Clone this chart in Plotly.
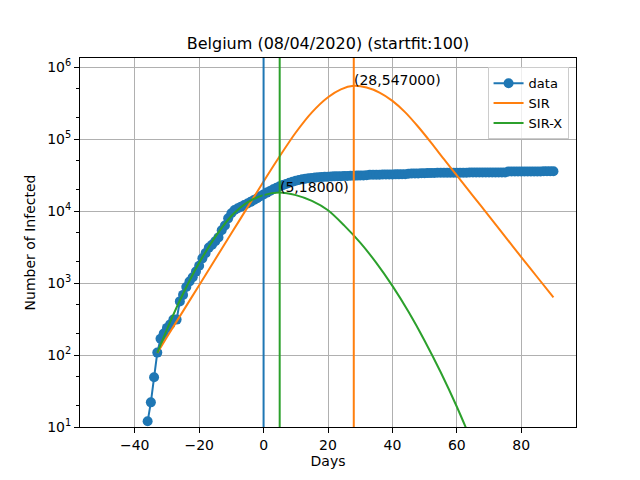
import math
import plotly.graph_objects as go

# observed infected (active cases), one point per day
days = list(range(-36, 91))
infected = [
    12, 22, 49, 108, 168, 199, 238, 266, 310, 310,
    555, 684, 880, 1050, 1200, 1440, 1740, 2200, 2600, 3100,
    3400, 3800, 4300, 5400, 6300, 7900, 9300, 10300, 10900, 11500,
    12100, 12700, 13400, 14200, 15000, 16000, 17000,
    18000, 19000, 20000, 21000, 22000, 22900, 23800, 24700, 25500, 26300,
    27000, 27600, 28100, 28500, 28800, 29100, 29400, 29600, 29800, 30000,
    30100, 30300, 30400, 30500, 30600, 30700, 30800, 30900, 31000, 31100,
    31200, 31300, 31800, 31900, 32000, 32000, 32100, 32100, 32200, 32200,
    32300, 32300, 32400, 32400, 33000, 33100, 33200, 33300, 33400, 33500,
    33600, 33700, 33800, 33900, 33900, 34000, 34000, 34000, 34100, 34100,
    34100, 34100, 34100, 34200, 34200, 34200, 34200, 34200, 34200, 34300,
    34300, 34300, 34300, 34300, 34300, 35400, 35400, 35400, 35400, 35400,
    35500, 35500, 35500, 35500, 35500, 35500, 35600, 35600, 35600, 35600,
]

# SIR fit
sir_days = [-33, -30, -25, -20, -15, -10, -5, 0, 5, 10, 15, 20, 24, 28,
            32, 36, 40, 44, 48, 52, 56, 60, 65, 70, 75, 80, 85, 90]
sir_vals = [107, 178, 407, 933, 2138, 4898, 11220, 25700, 57540, 123000,
            234400, 380200, 489800, 547000, 518800, 441600, 338800, 234400,
            147900, 89100, 52500, 31200, 16200, 8510, 4416, 2291, 1202, 631]

# SIR-X fit
sirx_days = [-33, -29, -25, -20, -15, -10, -5, 0, 5, 10, 15, 20, 25, 30,
             35, 40, 45, 50, 55, 60, 65]
sirx_vals = [107, 288, 708, 1905, 4365, 8511, 13180, 16600, 18000, 16600,
             13800, 10230, 6310, 3630, 1905, 912, 398, 158, 57.5, 19.1, 5.75]

peaks = [(0, "#1f77b4"), (5, "#2ca02c"), (28, "#ff7f0e")]
notes = [(28, 547000), (5, 18000)]

font = "DejaVu Sans"

fig = go.Figure()
fig.add_trace(go.Scatter(x=days, y=infected, mode="lines+markers", name="data",
                         line=dict(color="#1f77b4", width=2),
                         marker=dict(color="#1f77b4", size=10)))
fig.add_trace(go.Scatter(x=sir_days, y=sir_vals, mode="lines", name="SIR",
                         line=dict(color="#ff7f0e", width=2, shape="spline", smoothing=0.8)))
fig.add_trace(go.Scatter(x=sirx_days, y=sirx_vals, mode="lines", name="SIR-X",
                         line=dict(color="#2ca02c", width=2, shape="spline", smoothing=0.8)))

for xv, col in peaks:
    fig.add_vline(x=xv, line=dict(color=col, width=2))

for xv, yv in notes:
    fig.add_annotation(x=xv, y=math.log10(yv), text=f"({xv},{yv})",
                       showarrow=False, xanchor="left", yanchor="bottom",
                       xshift=-2, yshift=-4,
                       font=dict(family=font, size=14, color="black"))

# the page puts the figure 8px in from the top-left corner, margins allow for it
fig.update_layout(
    width=640, height=480,
    margin=dict(l=72, r=72, t=50, b=61, autoexpand=False),
    paper_bgcolor="white", plot_bgcolor="white",
    font=dict(family=font, size=14, color="black"),
    title=dict(text="Belgium (08/04/2020) (startfit:100)", xref="paper", x=0.5,
               xanchor="center", y=0.927, yanchor="middle", font=dict(size=16)),
    legend=dict(x=0.985, y=0.975, xanchor="right", yanchor="top",
                bgcolor="rgba(255,255,255,0.8)", bordercolor="#cccccc", borderwidth=1,
                font=dict(size=13), tracegroupgap=0, itemwidth=30),
    showlegend=True,
)
fig.update_xaxes(range=[-57, 97], tickvals=[-40, -20, 0, 20, 40, 60, 80],
                 ticks="outside", ticklen=5, tickcolor="black", automargin=False,
                 showgrid=True, gridcolor="#b0b0b0", gridwidth=1,
                 showline=True, linecolor="black", linewidth=1, mirror=True,
                 zeroline=False, title=dict(text="Days", standoff=4, font=dict(size=14)))
fig.update_yaxes(type="log", range=[1, 6.125], automargin=False,
                 tickvals=[10, 100, 1000, 10000, 100000, 1000000],
                 ticktext=["10<sup>1</sup>", "10<sup>2</sup>", "10<sup>3</sup>",
                           "10<sup>4</sup>", "10<sup>5</sup>", "10<sup>6</sup>"],
                 ticks="outside", ticklen=5, tickcolor="black",
                 minor=dict(ticks="outside", ticklen=3, tickcolor="black", showgrid=False),
                 showgrid=True, gridcolor="#b0b0b0", gridwidth=1,
                 showline=True, linecolor="black", linewidth=1, mirror=True,
                 zeroline=False, title=dict(text="Number of Infected", standoff=8, font=dict(size=14)))

fig.write_html("out.html")
